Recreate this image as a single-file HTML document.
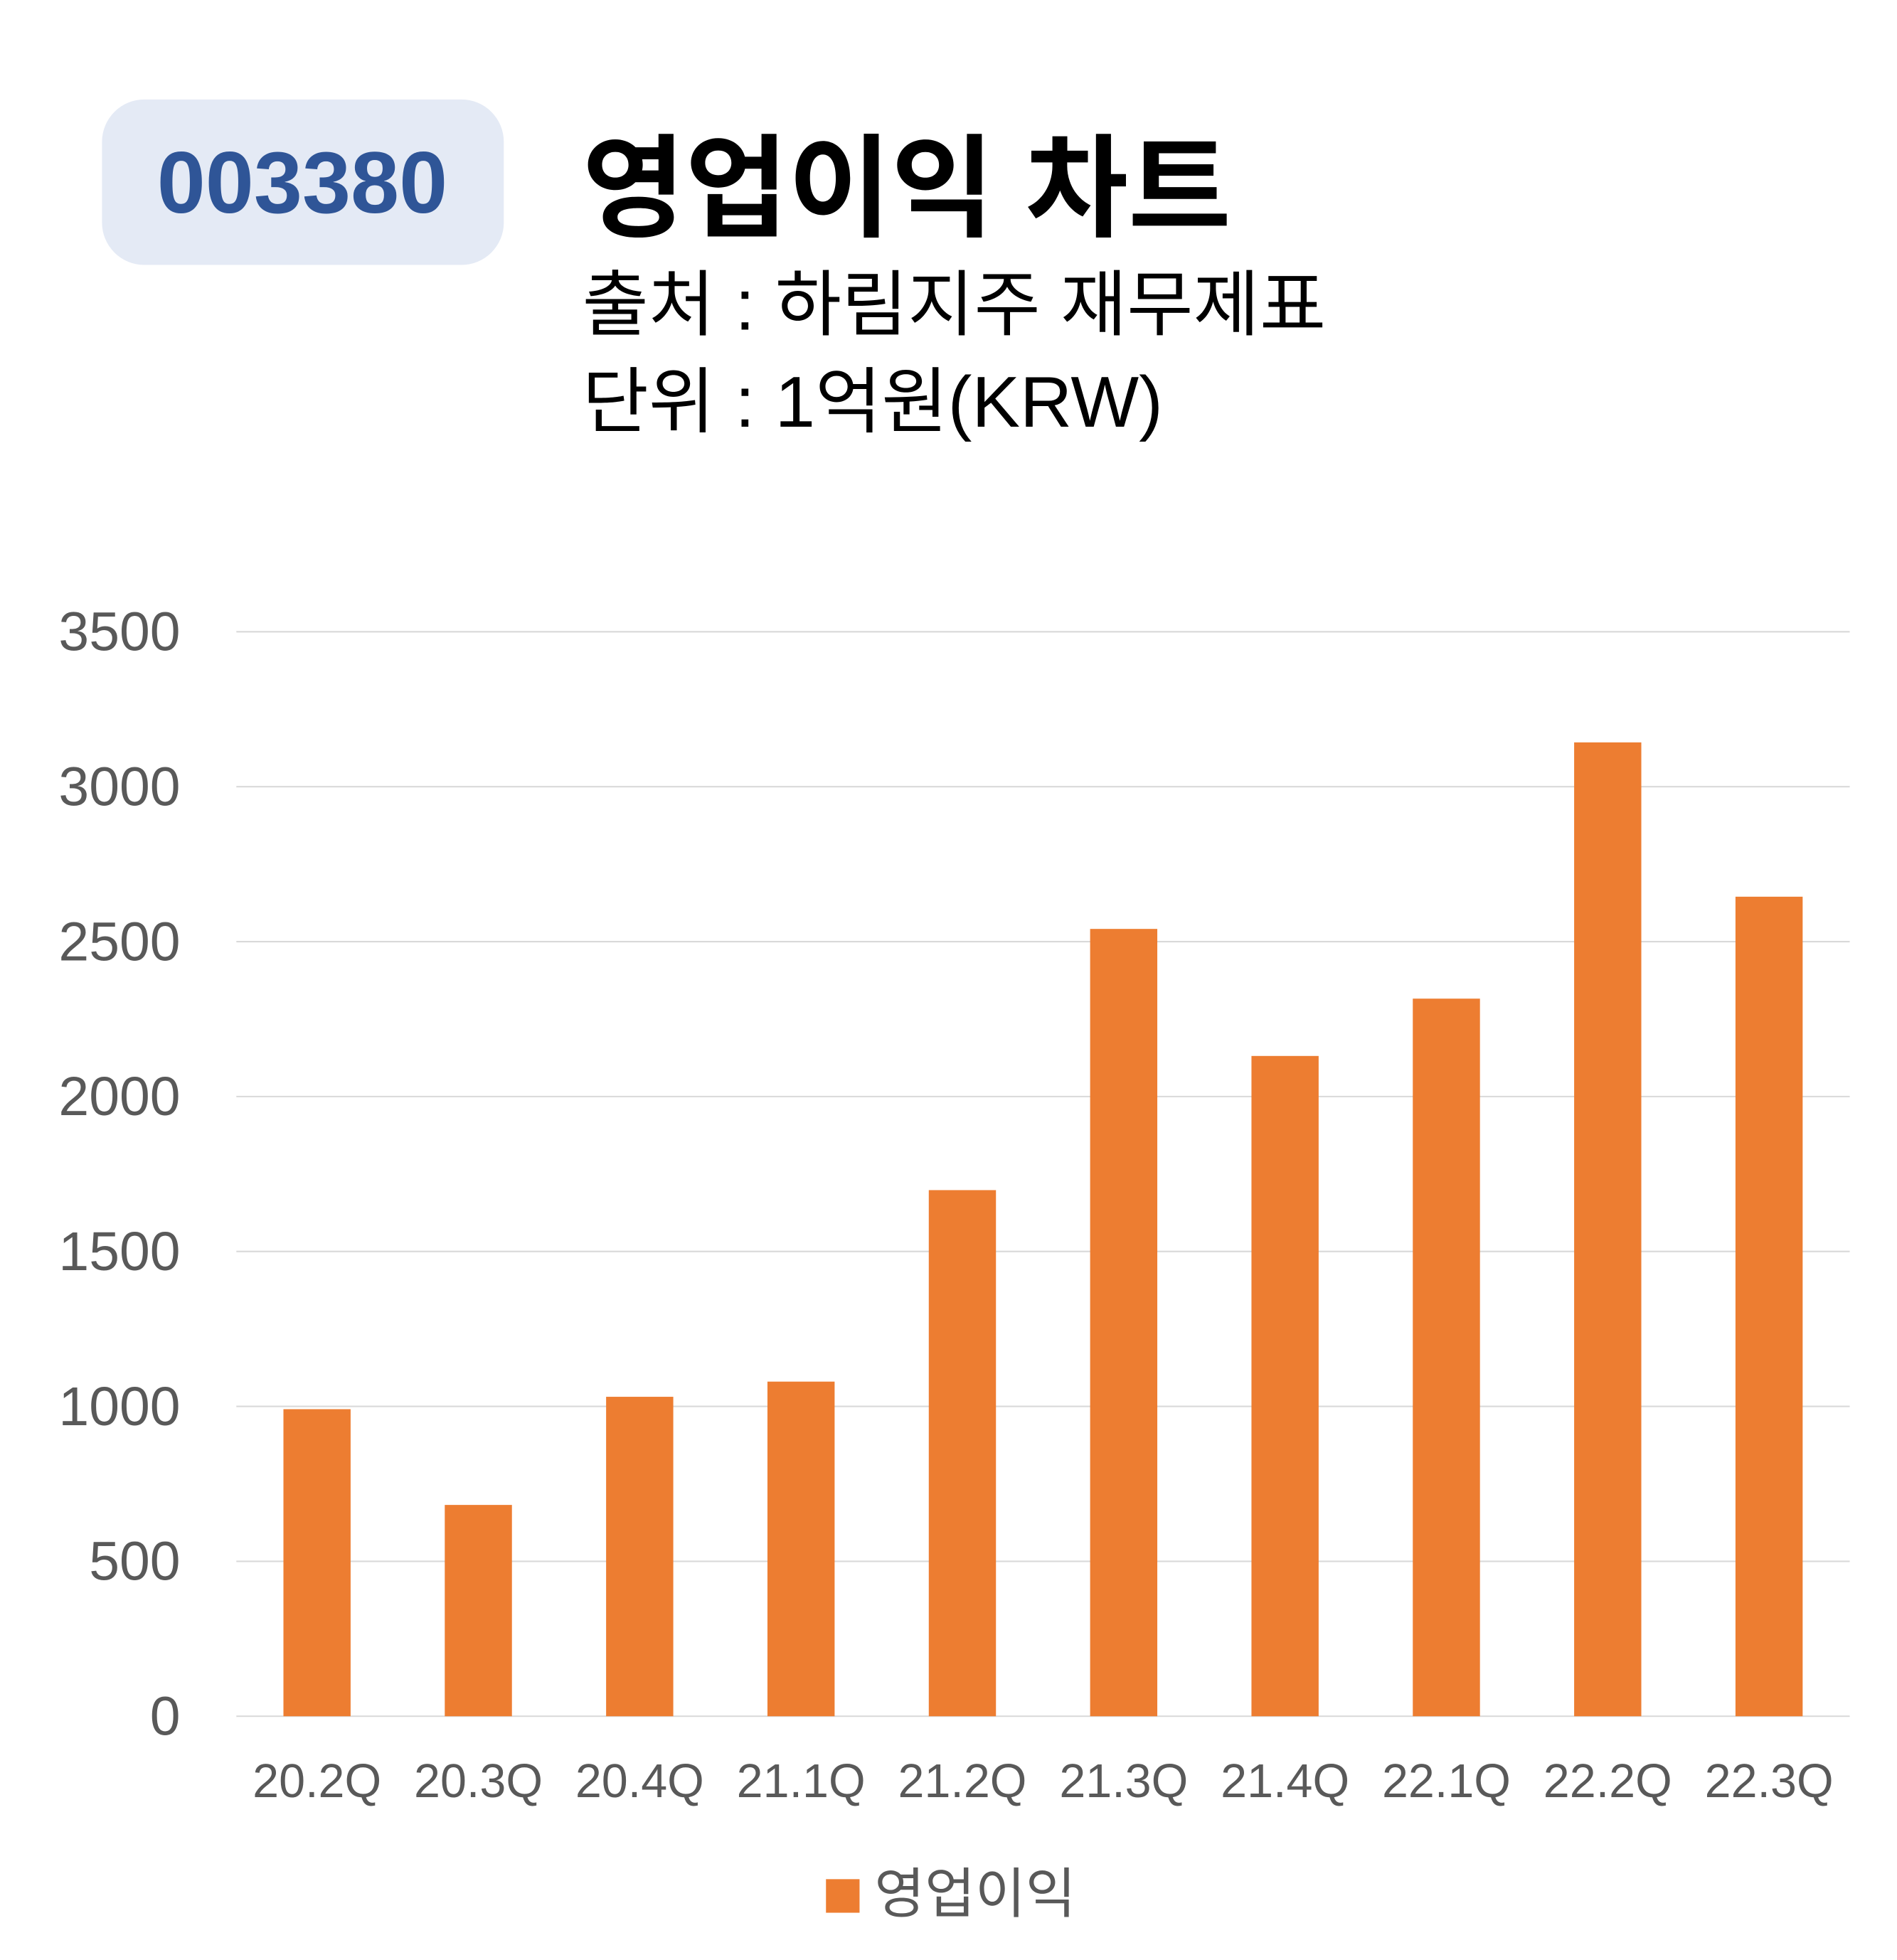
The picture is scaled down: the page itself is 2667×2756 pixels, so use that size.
<!DOCTYPE html>
<html><head><meta charset="utf-8"><style>
html,body{margin:0;padding:0;background:#fff}
svg{display:block;font-family:"Liberation Sans","Noto Sans CJK KR",sans-serif}
</style></head><body>
<svg width="2667" height="2756" viewBox="0 0 1525 1576" preserveAspectRatio="none" xmlns="http://www.w3.org/2000/svg">
<rect x="0" y="0" width="1525" height="1576" fill="#fff"/>
<rect x="82" y="80" width="323" height="133" rx="34" fill="#e4eaf5"/>
<text x="243" y="171" text-anchor="middle" font-size="70" font-weight="bold" fill="#2f5597">003380</text>
<text x="468" y="183" font-size="90" font-weight="bold" fill="#000">영업이익 차트</text>
<text x="468" y="265" font-size="58" fill="#000">출처 : 하림지주 재무제표</text>
<text x="468" y="343" font-size="58" fill="#000">단위 : 1억원(KRW)</text>
<g id="grid"></g>
<g id="yt"></g>
<g id="bars"></g>
<g id="xt"></g>
<rect x="664" y="1511" width="27" height="27" fill="#ed7d31"/>
<text x="703" y="1538" font-size="44" fill="#595959">영업이익</text>
</svg>
<script>
const categories=["20.2Q","20.3Q","20.4Q","21.1Q","21.2Q","21.3Q","21.4Q","22.1Q","22.2Q","22.3Q"];
const values=[991,682,1031,1080,1698,2541,2131,2316,3143,2645];
const yTicks=[0,500,1000,1500,2000,2500,3000,3500];
const NS="http://www.w3.org/2000/svg";
const x0=190,x1=1487,yZero=1380,yTop=508,yMax=3500;
const band=(x1-x0)/categories.length, bw=54;
function yS(v){return yZero-(v/yMax)*(yZero-yTop);}
function xC(i){return x0+band*(i+0.5);}
function mk(t,a,p){const e=document.createElementNS(NS,t);for(const k in a)e.setAttribute(k,a[k]);p.appendChild(e);return e;}
const grid=document.getElementById('grid'),yt=document.getElementById('yt'),bars=document.getElementById('bars'),xt=document.getElementById('xt');
yTicks.forEach(v=>{
  const l=mk('line',{x1:x0,x2:x1,y1:yS(v),y2:yS(v),stroke:'#d9d9d9','stroke-width':1.2},grid);
  
  
  const t=mk('text',{x:145,y:yS(v)+15,'text-anchor':'end','font-size':44,fill:'#595959'},yt);
  t.textContent=v;
  
  
});
values.forEach((v,i)=>{
  const r=mk('rect',{x:xC(i)-bw/2,y:yS(v),width:bw,height:yZero-yS(v),fill:'#ed7d31'},bars);
  
  
});
categories.forEach((c,i)=>{
  const t=mk('text',{x:xC(i),y:1445,'text-anchor':'middle','font-size':38,fill:'#595959'},xt);
  t.textContent=c;
  
  
});
</script>
</body></html>
